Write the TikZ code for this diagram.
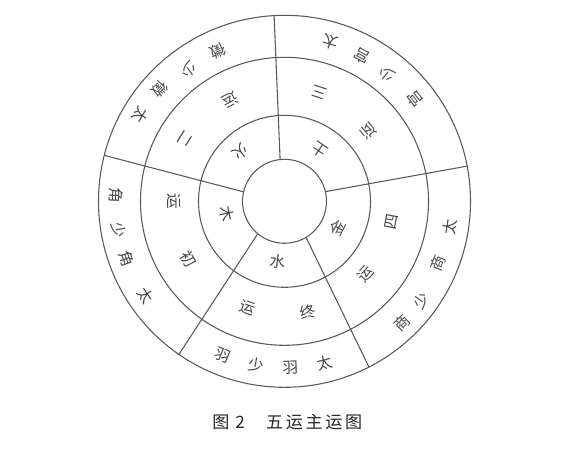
\documentclass[tikz,border=0pt]{standalone}
\usepackage{fontspec}
\newfontfamily\cjk{Noto Sans CJK SC}
\begin{document}
\begin{tikzpicture}[x=0.75pt,y=0.75pt,
  ring/.style={draw=black!65, line width=0.8pt},
  divider/.style={draw=black!65, line width=0.8pt},
  ch/.style={font=\cjk\fontsize{11.6}{11.6}\selectfont, text=black!72, inner sep=0pt},
  caption/.style={font=\cjk\fontsize{12.8}{12.8}\selectfont, text=black!85, inner sep=0pt}]
\useasboundingbox[fill=white] (-284.5,-248.7) rectangle (285.5,201.3);
% circles
\node[ring, circle, minimum size=279pt, inner sep=0pt] (c1) at (0,0) {};
\node[ring, circle, minimum size=216pt, inner sep=0pt] (c2) at (0,0) {};
\node[ring, circle, minimum size=129pt, inner sep=0pt] (c3) at (0,0) {};
\node[ring, circle, minimum size=63pt, inner sep=0pt] (c4) at (0,0) {};
% dividers
\coordinate (i1) at (96:42);    \coordinate (o1) at (93.2:186);
\coordinate (i2) at (167:42);   \coordinate (o2) at (165.7:186);
\coordinate (i3) at (13.3:42);  \coordinate (o3) at (10.9:186);
\coordinate (i4) at (230.5:42); \coordinate (o4) at (235.4:186);
\coordinate (i5) at (300.8:42); \coordinate (o5) at (297:186);
\foreach \k in {1,...,5} \draw[divider] (i\k) -- (o\k);
% outer ring
\foreach \a/\r/\t [count=\n] in {74/166/太, 62/165/宫, 51/163/少, 38/166/宫,
  149/168/太, 138/168/徵, 126/163/少, 114/165/徵,
  214/168/太, 200/168/角, 190/168/少, 178/169/角,
  -9/167/太, -22/165/商, -36/169/少, -46/169/商,
  284/167/太, 272/167/羽, 260/166/少, 248/166/羽}
  \node[ch, rotate=\a+90] (out\n) at (\a:\r) {\t};
% middle ring
\foreach \a/\r/\t [count=\n] in {72/114/三, 40/110/运, 148/117/二, 118/115/运,
  211/112/初, 180/111/运, 282/113/终, 251/113/运, -11/109/四, -42/109/运}
  \node[ch, rotate=\a+90] (mid\n) at (\a:\r) {\t};
% inner ring
\foreach \a/\r/\t [count=\n] in {55/62/土, 132/66/火, 192/59/木, 264/61/水, -27/59/金}
  \node[ch, rotate=\a+90] (inn\n) at (\a:\r) {\t};
% caption
\node[caption, anchor=west] (cap) at (-72.5,-220.7) {图\hspace{4.5pt}2\hspace{16pt}五\hspace{2pt}运\hspace{2pt}主\hspace{2pt}运\hspace{2pt}图};
\end{tikzpicture}
\end{document}
